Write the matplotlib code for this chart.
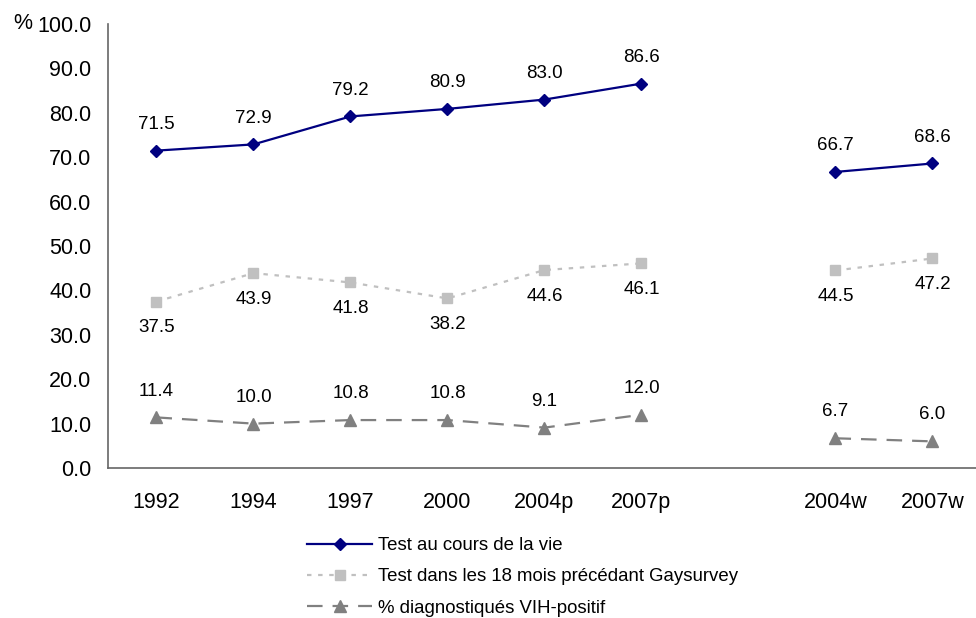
import numpy as np
import matplotlib
matplotlib.use('Agg')
import matplotlib.pyplot as plt

plt.rcParams['font.family'] = ['Liberation Sans', 'DejaVu Sans']

# Donnees

annees = ['1992', '1994', '1997', '2000', '2004p', '2007p', '', '2004w', '2007w']
test_vie = [71.5, 72.9, 79.2, 80.9, 83.0, 86.6, np.nan, 66.7, 68.6]
test_18mois = [37.5, 43.9, 41.8, 38.2, 44.6, 46.1, np.nan, 44.5, 47.2]
vih_positif = [11.4, 10.0, 10.8, 10.8, 9.1, 12.0, np.nan, 6.7, 6.0]

noms = ['Test au cours de la vie',
        'Test dans les 18 mois précédant Gaysurvey',
        '% diagnostiqués VIH-positif']

# Grafica

fig = plt.figure(figsize=(9.76, 6.18), dpi=100)
ax = fig.add_axes([0.1106, 0.2427, 0.8945, 0.7183])

x = np.arange(len(annees))

ax.plot(x, test_vie, color='#000080', lw=1.6, marker='D', ms=6.5,
        label=noms[0])
ax.plot(x, test_18mois, color='#C0C0C0', lw=1.6, ls=(0, (2, 3)), marker='s',
        ms=7.5, label=noms[1])
ax.plot(x, vih_positif, color='#808080', lw=1.6, ls=(0, (7, 4.5)), marker='^',
        ms=9, label=noms[2])

# Etiquetas de datos
for serie, dy in [(test_vie, 19), (test_18mois, -19), (vih_positif, 19)]:
    for xi, v in zip(x, serie):
        if np.isnan(v):
            continue
        ax.annotate(f'{v:.1f}', (xi, v), xytext=(0, dy), textcoords='offset points',
                    ha='center', va='center', fontsize=13.5, color='black')

ax.set_xlim(-0.5, len(annees) - 0.5)
ax.set_ylim(0, 100)
ax.set_yticks(np.arange(0, 101, 10))
ax.set_yticklabels([f'{v:.1f}' for v in np.arange(0, 101, 10)])
ax.set_xticks(x)
ax.set_xticklabels(annees)
ax.tick_params(axis='y', length=0, pad=12, labelsize=15.5)
ax.tick_params(axis='x', length=0, pad=17, labelsize=15.5)

for s in ['top', 'right']:
    ax.spines[s].set_visible(False)
for s in ['left', 'bottom']:
    ax.spines[s].set_color('#666666')
    ax.spines[s].set_linewidth(1.2)

fig.text(0.014, 0.962, '%', fontsize=15.5, va='center', ha='left')

fig.legend(loc='upper left', bbox_to_anchor=(0.3145, 0.131), frameon=False,
           fontsize=13.4, handlelength=3.5, labelspacing=0.77, handletextpad=0.3,
           borderpad=0, borderaxespad=0)

fig.savefig('out.png', dpi=100)
